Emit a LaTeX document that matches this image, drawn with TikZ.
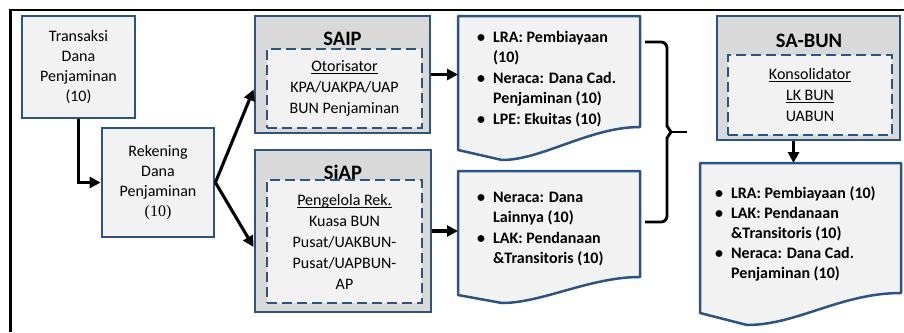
\documentclass[tikz,border=0pt]{standalone}
\usepackage{fontspec}
\setmainfont{Carlito}
\newfontfamily\numfont{Liberation Serif}
\usetikzlibrary{arrows.meta,calc}

\definecolor{frameblue}{RGB}{44,84,130}
\definecolor{paleface}{RGB}{242,242,242}
\definecolor{headgray}{RGB}{217,217,217}

% bullet cell of a report list
\newcommand\itemdot{\makebox[16pt][l]{\textbullet}}
% underlined word with a thin rule just below the baseline
\newsavebox\ulbox
\newcommand\ulword[1]{\sbox\ulbox{#1}\rlap{\rule[-2.6pt]{\wd\ulbox}{0.9pt}}\usebox\ulbox}

\begin{document}
\begin{tikzpicture}[x=1pt,y=-1pt,
  plainbox/.style={draw=frameblue, line width=2.8pt, fill=paleface, align=center,
    font=\fontsize{16}{20}\selectfont, inner sep=0pt},
  outerbox/.style={draw=frameblue, line width=2.9pt, fill=headgray, inner sep=0pt},
  dashbox/.style={draw=frameblue, line width=2.7pt, fill=paleface,
    dash pattern=on 10pt off 5pt, align=center,
    font=\fontsize{16}{21}\selectfont, inner sep=0pt},
  headtext/.style={font=\fontsize{20.5}{24}\selectfont\bfseries, inner sep=0pt},
  docarea/.style={inner sep=0pt, outer sep=0pt},
  docedge/.style={draw=frameblue, line width=2.5pt, fill=paleface, line join=round},
  doctext/.style={font=\fontsize{16}{20.5}\selectfont\bfseries, inner sep=0pt, anchor=base west},
  flow/.style={line width=3.1pt, -{Triangle[length=11pt,width=11pt]}},
  bracepen/.style={line width=2.8pt, line join=miter},
]
\useasboundingbox (0,0) rectangle (904,332);
\fill[white] (0,0) rectangle (904,332);

% page frame
\draw[line width=2.6pt] (10.5,332) -- (10.5,10) -- (904,10);

% source boxes
\node[plainbox, minimum width=113pt, minimum height=102pt] (trans) at (78.5,67)
  {Transaksi\\Dana\\Penjaminan\\(10)};
\node[plainbox, minimum width=112pt, minimum height=109pt] (rek) at (158,182.5)
  {Rekening\\Dana\\Penjaminan\\{\numfont (10)}};

% SAIP
\node[outerbox, minimum width=175pt, minimum height=117pt] (saip) at (342.5,74.5) {};
\node[headtext] (saiptitle) at (342.5,39) {SAIP};
\node[dashbox, minimum width=155pt, minimum height=79pt] (saipin) at (344.5,88.5)
  {\ulword{Otorisator}\\KPA/UAKPA/UAP\\BUN Penjaminan};

% SiAP
\node[outerbox, minimum width=176pt, minimum height=162pt] (siap) at (343,231) {};
\node[dashbox, minimum width=155pt, minimum height=123pt] (siapin) at (344.5,241.5)
  {\ulword{Pengelola Rek.}\\Kuasa BUN\\Pusat/UAKBUN-\\Pusat/UAPBUN-\\AP};
\node[headtext] (siaptitle) at (343,172) {SiAP};

% SA-BUN
\node[outerbox, minimum width=183pt, minimum height=124pt] (sabun) at (808.5,78) {};
\node[headtext] (sabuntitle) at (809,41) {SA-BUN};
\node[dashbox, minimum width=164pt, minimum height=80pt] (sabunin) at (810,95)
  {\ulword{Konsolidator}\\\ulword{LK BUN}\\UABUN};

% report documents
\node[docarea, minimum width=182pt, minimum height=111pt] (doc1) at (549,71.5) {};
\draw[docedge] (doc1.north west) -- (doc1.north east) -- (doc1.south east)
  .. controls +(-50,0) and +(40,0) .. (502,160) -- (458,150) -- cycle;
\node[doctext] (doc1txt) at (477,42) {\begin{tabular}[t]{@{}l@{}l@{}}
  \itemdot & LRA: Pembiayaan\\
           & (10)\\
  \itemdot & Neraca: Dana Cad.\\
           & Penjaminan (10)\\
  \itemdot & LPE: Ekuitas (10)
  \end{tabular}};

\node[docarea, minimum width=182pt, minimum height=106pt] (doc2) at (549,224) {};
\draw[docedge] (doc2.north west) -- (doc2.north east) -- (doc2.south east)
  .. controls +(-50,0) and +(40,0) .. (502,303) -- (458,295) -- cycle;
\node[doctext] (doc2txt) at (477,202) {\begin{tabular}[t]{@{}l@{}l@{}}
  \itemdot & Neraca: Dana\\
           & Lainnya (10)\\
  \itemdot & LAK: Pendanaan\\
           & \&Transitoris (10)
  \end{tabular}};

\node[docarea, minimum width=201pt, minimum height=130pt] (doc3) at (800.5,228) {};
\draw[docedge] (doc3.north west) -- (doc3.north east) -- (doc3.south east)
  .. controls +(-60,0) and +(50,0) .. (747,325) -- (700,313) -- cycle;
\node[doctext, font=\fontsize{16}{20}\selectfont\bfseries] (doc3txt) at (715,198)
  {\begin{tabular}[t]{@{}l@{}l@{}}
  \itemdot & LRA: Pembiayaan (10)\\
  \itemdot & LAK: Pendanaan\\
           & \&Transitoris (10)\\
  \itemdot & Neraca: Dana Cad.\\
           & Penjaminan (10)
  \end{tabular}};

% flow arrows
\draw[flow] (trans.south) |- (rek.west);
\draw[flow] (rek.east) -- ($(saip.west)+(0,15)$);
\draw[flow] (rek.east) -- ($(siap.west)+(0,16)$);
\draw[flow] (saip.east) -- (saip.east -| doc1.west);
\draw[flow] (siap.east) -- (siap.east -| doc2.west);
\coordinate (sabunout) at ($(sabun.south)+(-15,0)$);
\draw[flow] (sabunout) -- (sabunout |- doc3.north);

% brace joining both reports
\draw[bracepen, rounded corners=6pt] (645,42) -- (667,42) -- (667,127);
\draw[bracepen] (667,126) -- (671,132) -- (667,138);
\draw[bracepen, rounded corners=6pt] (667,137) -- (667,222) -- (645,222);
\draw[bracepen] (671,132) -- (687,132);
\end{tikzpicture}
\end{document}
